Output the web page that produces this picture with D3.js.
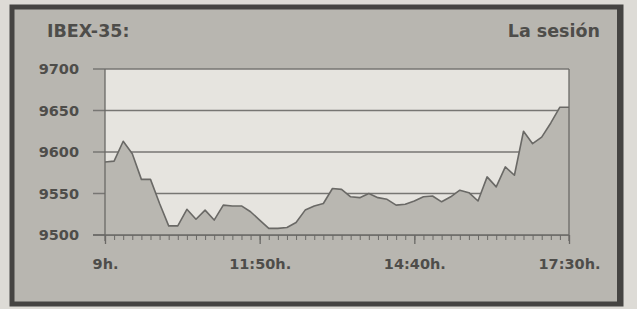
<!DOCTYPE html>
<html>
<head>
<meta charset="utf-8">
<script src="https://cdn.jsdelivr.net/npm/d3@7"></script>
<style>
  body { margin: 0; background: #dddbd6; }
  text { font-family: "DejaVu Sans", sans-serif; font-weight: bold; fill: #4e4d4a; }
</style>
</head>
<body>
<div id="chart"></div>
<script>
const title = "IBEX-35:";
const subtitle = "La sesión";
const times = ["9:00","9:10","9:20","9:30","9:40","9:50","10:00","10:10","10:20","10:30","10:40","10:50",
  "11:00","11:10","11:20","11:30","11:40","11:50","12:00","12:10","12:20","12:30","12:40","12:50",
  "13:00","13:10","13:20","13:30","13:40","13:50","14:00","14:10","14:20","14:30","14:40","14:50",
  "15:00","15:10","15:20","15:30","15:40","15:50","16:00","16:10","16:20","16:30","16:40","16:50",
  "17:00","17:10","17:20","17:30"];
const values = [9588,9589,9613,9598,9567,9567,9538,9511,9511,9531,9519,9530,
  9518,9536,9535,9535,9528,9518,9508,9508,9509,9515,9530,9535,
  9538,9556,9555,9546,9545,9550,9545,9543,9536,9537,9541,9546,
  9547,9540,9546,9554,9551,9541,9570,9558,9582,9572,9625,9610,
  9618,9635,9654,9654];
const yTicks = [9500, 9550, 9600, 9650, 9700];
const xLabels = ["9:00", "11:50", "14:40", "17:30"];
const xLabelText = ["9h.", "11:50h.", "14:40h.", "17:30h."];

const w = 637, h = 309;
const toMin = s => { const [hh, mm] = s.split(":").map(Number); return hh * 60 + mm; };
const data = times.map((t, i) => ({ t: toMin(t), v: values[i] }));

const x = d3.scaleLinear().domain([toMin("9:00"), toMin("17:30")]).range([105, 569]);
const y = d3.scaleLinear().domain([9500, 9700]).range([235, 69]);

const svg = d3.select("#chart").append("svg").attr("width", w).attr("height", h);

// frame
svg.append("rect").attr("x", 0).attr("y", 0).attr("width", w).attr("height", h).attr("fill", "#dddbd6");
svg.append("rect").attr("x", 12).attr("y", 7).attr("width", 609).attr("height", 297)
  .attr("fill", "#b8b6b0").attr("stroke", "#454442").attr("stroke-width", 5);
svg.append("line").attr("x1", 619).attr("x2", 619).attr("y1", 7).attr("y2", 305)
  .attr("stroke", "#454442").attr("stroke-width", 4);

svg.append("text").attr("x", 47).attr("y", 37).attr("font-size", 17.5).text(title);
svg.append("text").attr("x", 600).attr("y", 37).attr("font-size", 17.5).attr("text-anchor", "end").text(subtitle);

// plot background
svg.append("rect").attr("x", x.range()[0]).attr("y", y(9700))
  .attr("width", x.range()[1] - x.range()[0]).attr("height", y(9500) - y(9700))
  .attr("fill", "#e6e4df");

// grid lines
svg.append("g").selectAll("line").data(yTicks).enter().append("line")
  .attr("x1", 93).attr("x2", 569).attr("y1", d => y(d)).attr("y2", d => y(d))
  .attr("stroke", "#777673").attr("stroke-width", 1.3);

// area + line
const area = d3.area().x(d => x(d.t)).y0(y(9500)).y1(d => y(d.v));
const line = d3.line().x(d => x(d.t)).y(d => y(d.v));
svg.append("path").datum(data).attr("d", area).attr("fill", "#b9b7b1");
svg.append("path").datum(data).attr("d", line).attr("fill", "none")
  .attr("stroke", "#6a6966").attr("stroke-width", 1.6).attr("stroke-linejoin", "round");

// borders of plot
svg.append("line").attr("x1", 105).attr("x2", 105).attr("y1", 69).attr("y2", 241)
  .attr("stroke", "#6a6966").attr("stroke-width", 1.3);
svg.append("line").attr("x1", 569).attr("x2", 569).attr("y1", 69).attr("y2", 241)
  .attr("stroke", "#6a6966").attr("stroke-width", 1.3);

// y labels
svg.append("g").selectAll("text").data(yTicks).enter().append("text")
  .attr("x", 79).attr("y", d => y(d) + 5).attr("text-anchor", "end").attr("font-size", 14.5)
  .text(d => d);

// x axis minor ticks
const minorAxis = d3.axisBottom(x).tickValues(times.map(toMin)).tickSize(5).tickFormat("");
const gMinor = svg.append("g").attr("transform", `translate(0,${y(9500)})`).call(minorAxis);
gMinor.select(".domain").remove();
gMinor.selectAll("line").attr("stroke", "#6a6966").attr("stroke-width", 1);

// x axis major ticks + labels
const majorAxis = d3.axisBottom(x).tickValues(xLabels.map(toMin)).tickSize(9).tickPadding(15)
  .tickFormat((d, i) => xLabelText[i]);
const gMajor = svg.append("g").attr("transform", `translate(0,${y(9500)})`).call(majorAxis);
gMajor.select(".domain").remove();
gMajor.selectAll("line").attr("stroke", "#6a6966").attr("stroke-width", 1.3);
gMajor.selectAll("text").attr("font-size", 14.5).attr("font-family", "DejaVu Sans")
  .attr("font-weight", "bold").attr("fill", "#4e4d4a");

svg.append("line").attr("x1", 93).attr("x2", 569).attr("y1", y(9500)).attr("y2", y(9500))
  .attr("stroke", "#6a6966").attr("stroke-width", 1.3);
</script>
</body>
</html>
